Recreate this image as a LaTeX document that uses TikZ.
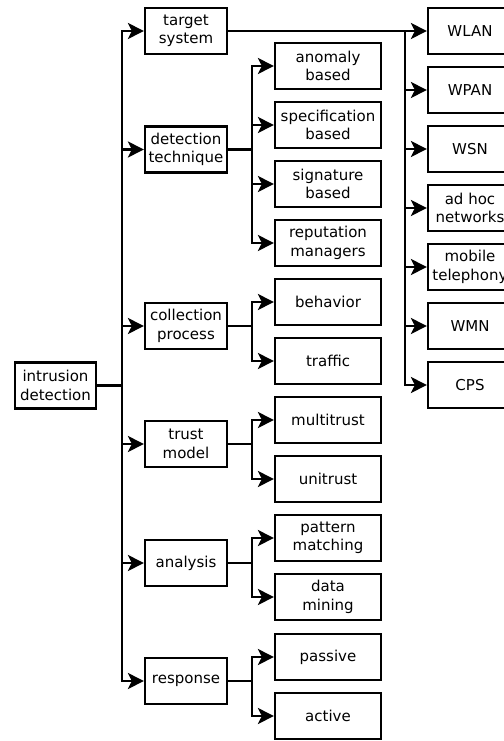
\documentclass[tikz,border=0pt]{standalone}
\usepackage{fontspec}
\setmainfont{DejaVu Sans}
\usetikzlibrary{arrows.meta}
\begin{document}
\begin{tikzpicture}[x=1pt,y=-1pt,
  every node/.style={font=\fontsize{15}{18.5}\selectfont},
  box/.style={draw,line width=2.2pt,align=center,inner sep=0pt,minimum height=46pt},
  catbox/.style={box,minimum width=82pt},
  leafbox/.style={box,minimum width=106pt},
  netbox/.style={box,minimum width=84pt},
  link/.style={line width=2.5pt,-{Stealth[length=16pt,width=16pt,inset=4pt]}}]
\useasboundingbox (0,0) rectangle (503,741);

% root
\node[catbox,minimum width=81pt] (root) at (55.5,385.5) {intrusion\\detection};

% categories
\node[catbox] (ts) at (186,31)    {target\\system};
\node[catbox] (dt) at (186,149.5) {detection\\technique};
\node[catbox] (cp) at (186,326)   {collection\\process};
\node[catbox] (tm) at (186,444)   {trust\\model};
\node[catbox] (an) at (186,563)   {analysis};
\node[catbox] (re) at (186,681)   {response};

% leaves
\node[leafbox] (anom) at (328,66)  {anomaly\\based};
\node[leafbox] (spec) at (328,125) {specification\\based};
\node[leafbox] (sign) at (328,184) {signature\\based};
\node[leafbox] (repu) at (328,243) {reputation\\managers};
\node[leafbox] (beha) at (328,302) {behavior};
\node[leafbox] (traf) at (328,361) {traffic};
\node[leafbox] (mult) at (328,420) {multitrust};
\node[leafbox] (unit) at (328,479) {unitrust};
\node[leafbox] (patt) at (328,538) {pattern\\matching};
\node[leafbox] (data) at (328,597) {data\\mining};
\node[leafbox] (pass) at (328,657) {passive};
\node[leafbox] (acti) at (328,716) {active};

% target systems
\node[netbox] (wlan) at (470,31)  {WLAN};
\node[netbox] (wpan) at (470,90)  {WPAN};
\node[netbox] (wsn)  at (470,149) {WSN};
\node[netbox] (adhc) at (470,208) {ad hoc\\networks};
\node[netbox] (mobi) at (470,267) {mobile\\telephony};
\node[netbox] (wmn)  at (470,326) {WMN};
\node[netbox] (cps)  at (470,385) {CPS};

% root to categories
\foreach \c in {ts,dt,cp,tm,an,re}
  \draw[link] (root.east) -- ++(25,0) |- (\c.west);

% categories to leaves
\foreach \c/\l in {dt/anom,dt/spec,dt/sign,dt/repu,cp/beha,cp/traf,tm/mult,tm/unit,an/patt,an/data,re/pass,re/acti}
  \draw[link] (\c.east) -- ++(24,0) |- (\l.west);

% target system to network types
\foreach \l in {wlan,wpan,wsn,adhc,mobi,wmn,cps}
  \draw[link] (ts.east) -- ++(177,0) |- (\l.west);
\end{tikzpicture}
\end{document}
